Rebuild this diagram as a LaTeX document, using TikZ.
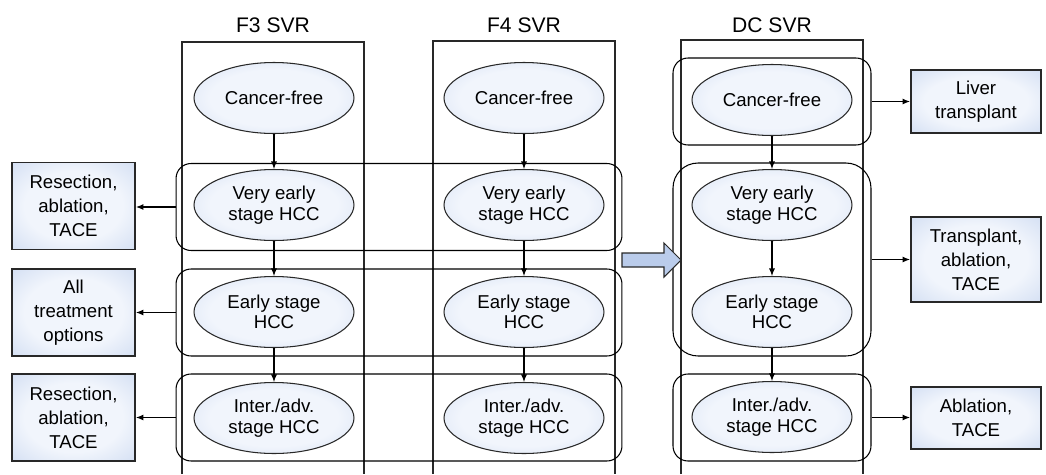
\documentclass[tikz,border=0pt]{standalone}
\usepackage{fontspec}
\setmainfont{Liberation Sans}
\usepackage{tikz}
\usetikzlibrary{arrows.meta,positioning,shapes.geometric}

\definecolor{paleblue}{RGB}{241,245,252}
\definecolor{midblue}{RGB}{186,204,235}
\definecolor{edgegray}{RGB}{40,40,40}
\pgfdeclareradialshading{softblue}{\pgfpoint{0bp}{0bp}}{%
  color(0bp)=(paleblue); color(20bp)=(paleblue);
  color(50bp)=(midblue); color(100bp)=(midblue)}

\begin{document}
\begin{tikzpicture}[
    x=0.02cm, y=-0.02cm,
    title/.style={font=\fontsize{12}{14}\selectfont},
    col/.style={draw=edgegray, line width=0.6pt},
    stage/.style={ellipse, draw=edgegray, line width=0.6pt, shade, shading=softblue,
                  align=center, inner sep=0pt,
                  minimum width=3.2cm, minimum height=1.42cm,
                  font=\fontsize{10.6}{11.6}\selectfont},
    grp/.style={draw=black, line width=0.6pt, rounded corners=3mm,
                minimum width=8.92cm, minimum height=1.74cm},
    dcgrp/.style={draw=black, line width=0.6pt, rounded corners=3mm,
                  minimum width=3.96cm, minimum height=1.74cm},
    treat/.style={draw=edgegray, line width=1.1pt, shade, shading=softblue,
                  align=center, font=\fontsize{10.6}{13.6}\selectfont},
    arr/.style={-{Latex[length=1.5mm,width=1.2mm]}, line width=0.6pt},
    fat/.style={draw=edgegray, line width=0.6pt, fill=midblue}
  ]
  \useasboundingbox (0,0) rectangle (1046,474);

  % columns
  \draw[col] (182,474) -- (182,42) -- (364,42) -- (364,474);
  \draw[col] (433,474) -- (433,41) -- (615,41) -- (615,474);
  \draw[col] (681,474) -- (681,40) -- (863,40) -- (863,474);
  \node[title] (f3title) at (273,25) {F3 SVR};
  \node[title] (f4title) at (524,25) {F4 SVR};
  \node[title] (dctitle) at (772,25) {DC SVR};

  % groups
  \node[grp] (grpvearly) at (399,207) {};
  \node[grp] (grpearly)  at (399,312.5) {};
  \node[grp] (grpinter)  at (399,417.5) {};
  \node[dcgrp] (dcgrpfree)  at (772,101.5) {};
  \node[dcgrp, minimum height=3.86cm, rounded corners=5mm] (dcgrpmid) at (772,259.5) {};
  \node[dcgrp] (dcgrpinter) at (772,417.5) {};

  % stages
  \node[stage] (f3free)   at (274,98)  {Cancer-free};
  \node[stage] (f3vearly) at (274,205) {Very early\\stage HCC};
  \node[stage] (f3early)  at (274,312) {Early stage\\HCC};
  \node[stage] (f3inter)  at (274,418) {Inter./adv.\\stage HCC};
  \node[stage] (f4free)   at (524,98)  {Cancer-free};
  \node[stage] (f4vearly) at (524,205) {Very early\\stage HCC};
  \node[stage] (f4early)  at (524,312) {Early stage\\HCC};
  \node[stage] (f4inter)  at (524,418) {Inter./adv.\\stage HCC};
  \node[stage] (dcfree)   at (772,100) {Cancer-free};
  \node[stage] (dcvearly) at (772,205) {Very early\\stage HCC};
  \node[stage] (dcearly)  at (772,312) {Early stage\\HCC};
  \node[stage] (dcinter)  at (772,417) {Inter./adv.\\stage HCC};

  % treatments
  \node[treat, minimum width=2.46cm, minimum height=1.74cm] (lvearly) at (73.5,206) {Resection,\\ablation,\\TACE};
  \node[treat, minimum width=2.46cm, minimum height=1.74cm] (learly)  at (73.5,312.5) {All\\treatment\\options};
  \node[treat, minimum width=2.46cm, minimum height=1.74cm] (linter)  at (73.5,417.5) {Resection,\\ablation,\\TACE};
  \node[treat, minimum width=2.6cm, minimum height=1.26cm] (rfree)   at (976,101.5) {Liver\\transplant};
  \node[treat, minimum width=2.6cm, minimum height=1.7cm]  (rmid)    at (976,259.5) {Transplant,\\ablation,\\TACE};
  \node[treat, minimum width=2.6cm, minimum height=1.24cm] (rinter)  at (976,418) {Ablation,\\TACE};

  \draw[arr] (f3free) -- (f3vearly);
  \draw[arr] (f3vearly) -- (f3early);
  \draw[arr] (f3early) -- (f3inter);
  \draw[arr] (f4free) -- (f4vearly);
  \draw[arr] (f4vearly) -- (f4early);
  \draw[arr] (f4early) -- (f4inter);
  \draw[arr] (dcfree) -- (dcvearly);
  \draw[arr] (dcvearly) -- (dcearly);
  \draw[arr] (dcearly) -- (dcinter);

  \draw[arr] (grpvearly.west) -- (grpvearly.west -| lvearly.east);
  \draw[arr] (grpearly.west) -- (grpearly.west -| learly.east);
  \draw[arr] (grpinter.west) -- (grpinter.west -| linter.east);
  \draw[arr] (dcgrpfree.east) -- (dcgrpfree.east -| rfree.west);
  \draw[arr] (dcgrpmid.east) -- (dcgrpmid.east -| rmid.west);
  \draw[arr] (dcgrpinter.east) -- (dcgrpinter.east -| rinter.west);

  % F3/F4 to DC
  \draw[fat] (622,253) -- (664,253) -- (664,243) -- (681,260)
             -- (664,277) -- (664,267) -- (622,267) -- cycle;
\end{tikzpicture}
\end{document}
